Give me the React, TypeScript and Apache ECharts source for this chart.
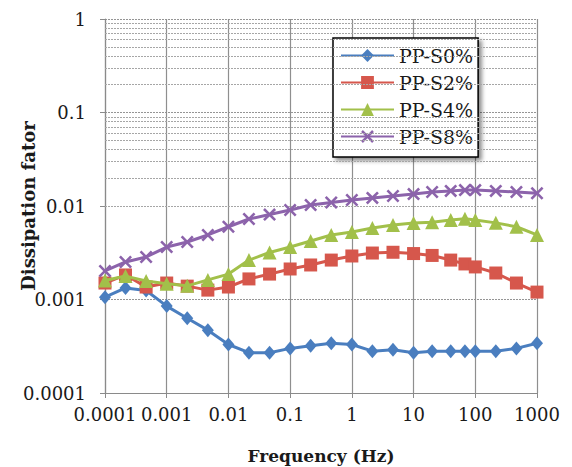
import React, { useEffect, useRef } from "react";
import * as echarts from "echarts";

// Frequencies (Hz)
const freq = [0.0001, 0.000215, 0.000464, 0.001, 0.00215, 0.00464, 0.01, 0.0215, 0.0464, 0.1, 0.215, 0.464, 1, 2.15, 4.64, 10, 20, 40, 68, 100, 215, 464, 1000];

const s0 = [0.00106, 0.00133, 0.00125, 0.00085, 0.00063, 0.00047, 0.00033, 0.00027, 0.00027, 0.0003, 0.00032, 0.00034, 0.00033, 0.00028, 0.00029, 0.00027, 0.00028, 0.00028, 0.00028, 0.00028, 0.00028, 0.0003, 0.00034];
const s2 = [0.0015, 0.00183, 0.00136, 0.0015, 0.00139, 0.00126, 0.00136, 0.00166, 0.00187, 0.00212, 0.00234, 0.00264, 0.00292, 0.00314, 0.0032, 0.0031, 0.00296, 0.00264, 0.0024, 0.00223, 0.00192, 0.0015, 0.0012];
const s4 = [0.0016, 0.00178, 0.00158, 0.00147, 0.0014, 0.00162, 0.00187, 0.00264, 0.00318, 0.00364, 0.00422, 0.0049, 0.00527, 0.00582, 0.00626, 0.00658, 0.0067, 0.0071, 0.0073, 0.0071, 0.0066, 0.006, 0.0049];
const s8 = [0.00202, 0.00252, 0.00285, 0.00364, 0.00412, 0.0049, 0.006, 0.00726, 0.0081, 0.00906, 0.01025, 0.0109, 0.0116, 0.0122, 0.0128, 0.0134, 0.0141, 0.0145, 0.0148, 0.0148, 0.0145, 0.0141, 0.0137];

const seriesNames = ["PP-S0%", "PP-S2%", "PP-S4%", "PP-S8%"];

// Minor horizontal grid positions (2..9 in each decade)
const decades = [0.0001, 0.001, 0.01, 0.1];
const minorMultipliers = [2, 3, 4, 5, 6, 7, 8, 9];

const FONT = "DejaVu Serif";

const crossPath =
  "path://M0,1.4 L1.4,0 L5,3.6 L8.6,0 L10,1.4 L6.4,5 L10,8.6 L8.6,10 L5,6.4 L1.4,10 L0,8.6 L3.6,5 Z";

function pairs(ys: number[]) {
  return freq.map((f, i) => [f, ys[i]]);
}

const fmt = (v: number) => String(Number(Number(v).toPrecision(2)));

export default function App() {
  const ref = useRef<HTMLDivElement>(null);
  useEffect(() => {
    if (!ref.current) return;
    const chart = echarts.init(ref.current, undefined, { renderer: "svg" });
    const minorLines: any[] = [];
    decades.forEach((d) => minorMultipliers.forEach((m) => minorLines.push({ yAxis: Number((d * m).toPrecision(2)) })));

    const lineW = 3;
    const option: any = {
      animation: false,
      backgroundColor: "#ffffff",
      grid: { left: 105, right: 35, top: 19, bottom: 74, outerBoundsMode: "none", containLabel: false },
      legend: {
        orient: "vertical",
        left: 333,
        top: 38,
        data: seriesNames,
        itemWidth: 53,
        itemHeight: 16,
        itemGap: 8,
        padding: [8, 5, 11, 7],
        backgroundColor: "#ffffff",
        borderColor: "#000000",
        borderWidth: 1.5,
        borderRadius: 0,
        shadowColor: "rgba(0,0,0,0.45)",
        shadowBlur: 4,
        shadowOffsetX: 3,
        shadowOffsetY: 3,
        textStyle: { fontFamily: FONT, fontSize: 19, color: "#1a1a1a" },
      },
      xAxis: {
        type: "log",
        logBase: 10,
        min: 0.0001,
        max: 1000,
        splitNumber: 10,
        name: "Frequency (Hz)",
        nameLocation: "middle",
        nameGap: 54,
        nameMoveOverlap: false,
        nameTextStyle: { fontFamily: FONT, fontSize: 17, fontWeight: "bold", color: "#1a1a1a" },
        axisLine: { show: true, lineStyle: { color: "#8a8a8a", width: 1.2 } },
        axisTick: { show: true, length: 5, lineStyle: { color: "#8a8a8a" } },
        axisLabel: { fontFamily: FONT, fontSize: 18, color: "#1a1a1a", margin: 12, formatter: fmt },
        splitLine: { show: true, lineStyle: { color: "#8f8f8f", width: 1.2 } },
      },
      yAxis: {
        type: "log",
        logBase: 10,
        min: 0.0001,
        max: 1,
        splitNumber: 10,
        name: "Dissipation fator",
        nameLocation: "middle",
        nameGap: 68,
        nameMoveOverlap: false,
        nameTextStyle: { fontFamily: FONT, fontSize: 18, fontWeight: "bold", color: "#1a1a1a" },
        axisLine: { show: true, lineStyle: { color: "#8a8a8a", width: 1.2 } },
        axisTick: { show: true, length: 5, lineStyle: { color: "#8a8a8a" } },
        axisLabel: { fontFamily: FONT, fontSize: 18, color: "#1a1a1a", margin: 19, formatter: fmt },
        splitLine: { show: true, lineStyle: { color: "#959595", width: 1, type: [2, 1] } },
      },
      series: [
        {
          type: "line",
          name: "__grid",
          data: [],
          silent: true,
          symbol: "none",
          markLine: {
            silent: true,
            symbol: "none",
            label: { show: false },
            lineStyle: { color: "#a6a6a6", width: 1, type: [2, 1] },
            data: minorLines,
          },
          z: 1,
        },
        {
          type: "line",
          name: seriesNames[0],
          data: pairs(s0),
          symbol: "diamond",
          symbolSize: [12, 14],
          lineStyle: { width: lineW, color: "#4a7ebf" },
          itemStyle: { color: "#4a7ebf" },
          z: 3,
        },
        {
          type: "line",
          name: seriesNames[1],
          data: pairs(s2),
          symbol: "rect",
          symbolSize: 13,
          lineStyle: { width: lineW, color: "#d6574c" },
          itemStyle: { color: "#d6574c" },
          z: 4,
        },
        {
          type: "line",
          name: seriesNames[2],
          data: pairs(s4),
          symbol: "triangle",
          symbolSize: 14,
          lineStyle: { width: lineW, color: "#a2c04a" },
          itemStyle: { color: "#a2c04a" },
          z: 5,
        },
        {
          type: "line",
          name: seriesNames[3],
          data: pairs(s8),
          symbol: crossPath,
          symbolSize: 13,
          lineStyle: { width: lineW, color: "#8c63ab" },
          itemStyle: { color: "#8c63ab" },
          z: 6,
        },
      ],
    };
    chart.setOption(option);
    return () => chart.dispose();
  }, []);
  return (
    <div
      ref={ref}
      style={{ position: "fixed", left: 0, top: 0, width: 572, height: 467, background: "#fff" }}
    />
  );
}
